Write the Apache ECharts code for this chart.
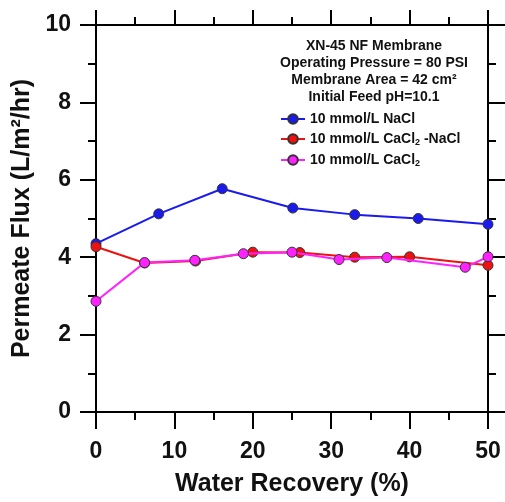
<!DOCTYPE html>
<html>
<head>
<meta charset="utf-8">
<script src="https://cdn.jsdelivr.net/npm/echarts@6/dist/echarts.min.js"></script>
<style>
  html, body { margin: 0; padding: 0; background: #fff; }
  #chart { width: 505px; height: 502px; }
</style>
</head>
<body>
<div id="chart"></div>
<script>
// Permeate flux vs. water recovery for the XN-45 NF membrane
const nameNaCl = '10 mmol/L NaCl';
const nameMix = '10 mmol/L CaCl2 -NaCl';
const nameCaCl2 = '10 mmol/L CaCl2';

const recoveryNaCl = [0, 8, 16.1, 25.1, 33, 41.1, 50];
const fluxNaCl = [4.35, 5.12, 5.77, 5.27, 5.10, 5.00, 4.85];

const recoveryMix = [0, 6.2, 12.7, 20, 26, 33, 40, 50];
const fluxMix = [4.27, 3.85, 3.90, 4.13, 4.12, 4.00, 4.01, 3.79];

const recoveryCaCl2 = [0, 6.2, 12.6, 18.8, 25, 31, 37.1, 47.1, 50];
const fluxCaCl2 = [2.86, 3.86, 3.92, 4.09, 4.13, 3.94, 3.99, 3.74, 4.01];

const headerLines = [
  'XN-45 NF Membrane',
  'Operating Pressure = 80 PSI',
  'Membrane Area = 42 cm\u00b2',
  'Initial Feed pH=10.1'
];

const FONT = '"Liberation Sans", Arial, sans-serif';
const pair = (xs, ys) => xs.map((x, i) => [x, ys[i]]);

const chart = echarts.init(document.getElementById('chart'), null, { renderer: 'canvas' });

// Frame axes: ticks point outward, the end ticks overhang the corners
function axisCommon(len, minorLen) {
  return {
    axisLine: { show: true, onZero: false, lineStyle: { color: '#000', width: 2 } },
    axisTick: { show: true, inside: false, length: len, lineStyle: { color: '#000', width: 2 } },
    minorTick: { show: true, splitNumber: 2, length: minorLen, lineStyle: { color: '#000', width: 2 } },
    splitLine: { show: false },
    minorSplitLine: { show: false }
  };
}

function lineSeries(name, data, color, z) {
  return {
    name: name,
    type: 'line',
    data: data,
    z: z,
    symbol: 'circle',
    symbolSize: 10,
    showAllSymbol: true,
    lineStyle: { color: color, width: 2 },
    itemStyle: { color: color, borderColor: '#333', borderWidth: 1 },
    emphasis: { disabled: true },
    animation: false
  };
}

chart.setOption({
  animation: false,
  textStyle: { fontFamily: FONT },
  grid: { left: 96, right: 17, top: 25, bottom: 86, containLabel: false },
  xAxis: [
    Object.assign({
      type: 'value', position: 'bottom', min: 0, max: 50, interval: 10,
      name: 'Water Recovery (%)', nameLocation: 'middle', nameGap: 60,
      nameTextStyle: { fontSize: 25, fontWeight: 'bold', color: '#111', fontFamily: FONT },
      axisLabel: { fontSize: 23, fontWeight: 'bold', color: '#111', margin: 28, fontFamily: FONT }
    }, axisCommon(17, 8)),
    Object.assign({
      type: 'value', position: 'top', min: 0, max: 50, interval: 10,
      axisLabel: { show: false }
    }, axisCommon(15, 8))
  ],
  yAxis: [
    Object.assign({
      type: 'value', position: 'left', min: 0, max: 10, interval: 2,
      name: 'Permeate Flux (L/m\u00b2/hr)', nameLocation: 'middle', nameGap: 58,
      nameTextStyle: { fontSize: 25, fontWeight: 'bold', color: '#111', fontFamily: FONT },
      axisLabel: { fontSize: 23, fontWeight: 'bold', color: '#111', margin: 25, fontFamily: FONT }
    }, axisCommon(16, 8)),
    Object.assign({
      type: 'value', position: 'right', min: 0, max: 10, interval: 2,
      axisLabel: { show: false }
    }, axisCommon(17, 8))
  ],
  legend: {
    orient: 'vertical',
    left: 275,
    top: 107,
    itemWidth: 24,
    itemHeight: 12,
    itemGap: 6,
    data: [nameNaCl, nameMix, nameCaCl2],
    selectedMode: false,
    formatter: function (name) {
      return name.replace('CaCl2', 'CaCl{sub|2}');
    },
    textStyle: {
      fontSize: 14, fontWeight: 'bold', color: '#111', fontFamily: FONT,
      rich: {
        sub: { fontSize: 9, fontWeight: 'bold', color: '#111', fontFamily: FONT, padding: [7, 0, 0, 0] }
      }
    }
  },
  graphic: [{
    type: 'text',
    x: 374,
    y: 38,
    silent: true,
    style: {
      text: headerLines.join('\n'),
      align: 'center',
      fill: '#111',
      font: 'bold 14px ' + FONT,
      lineHeight: 17
    }
  }],
  series: [
    lineSeries(nameNaCl, pair(recoveryNaCl, fluxNaCl), '#1a1aee', 2),
    lineSeries(nameMix, pair(recoveryMix, fluxMix), '#ee1111', 3),
    lineSeries(nameCaCl2, pair(recoveryCaCl2, fluxCaCl2), '#ff22ff', 4)
  ]
});
</script>
</body>
</html>
